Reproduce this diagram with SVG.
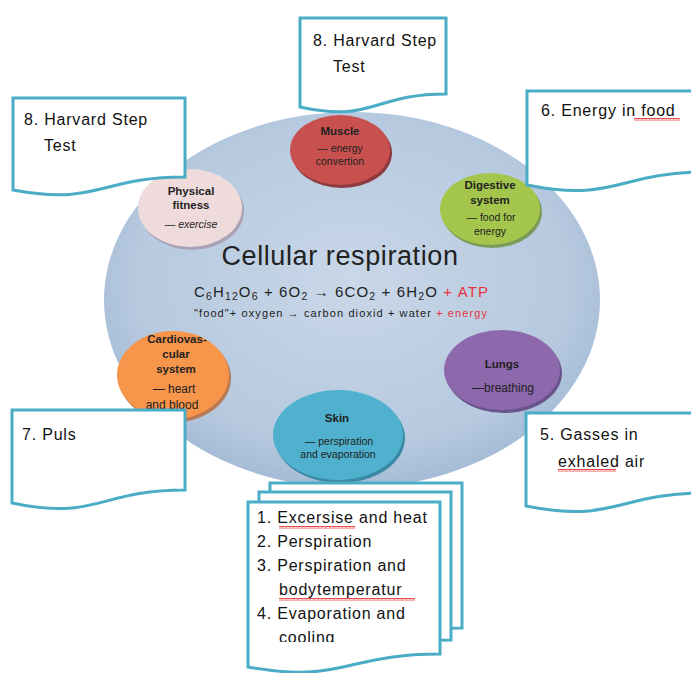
<svg xmlns="http://www.w3.org/2000/svg" width="691" height="673" viewBox="0 0 691 673">
<style>
.doc{fill:#fff;stroke:#4bacc6;stroke-width:3;stroke-linejoin:miter}
.dt{font-family:"Liberation Sans",Arial,sans-serif;font-size:16px;letter-spacing:0.8px;fill:#111}
.ct{font-family:"Liberation Sans",Arial,sans-serif;text-anchor:middle;fill:#222}
.eq{font-family:"Liberation Sans",Arial,sans-serif;fill:#222}
.cb{font-size:11.5px;font-weight:bold}
.cs{font-size:10.5px}
.red{fill:#e8323c}
</style>
<defs>
<radialGradient id="bg" cx="50%" cy="45%" r="55%">
<stop offset="0" stop-color="#c9d7e8"/>
<stop offset="0.8" stop-color="#b6c9df"/>
<stop offset="1" stop-color="#a5bbd6"/>
</radialGradient>
<pattern id="wavy" width="4" height="3" patternUnits="userSpaceOnUse">
<path d="M0,2.5 L1,0.5 L2,2.5 L3,0.5 L4,2.5" fill="none" stroke="#e02020" stroke-width="0.8"/>
</pattern>
<clipPath id="stackclip"><rect x="240" y="480" width="240" height="162"/></clipPath>
</defs>

<g id="hub">
<ellipse cx="352" cy="300" rx="248" ry="188" fill="url(#bg)"/>
<text class="ct" x="340" y="265" font-size="27" fill="#222" style="letter-spacing:0.6px">Cellular respiration</text>
<text class="eq" x="194" y="297" font-size="15" textLength="294" lengthAdjust="spacing"><tspan>C</tspan><tspan font-size="10.5" dy="3">6</tspan><tspan dy="-3">H</tspan><tspan font-size="10.5" dy="3">12</tspan><tspan dy="-3">O</tspan><tspan font-size="10.5" dy="3">6</tspan><tspan dy="-3"> + 6O</tspan><tspan font-size="10.5" dy="3">2</tspan><tspan dy="-3"> → 6CO</tspan><tspan font-size="10.5" dy="3">2</tspan><tspan dy="-3"> + 6H</tspan><tspan font-size="10.5" dy="3">2</tspan><tspan dy="-3">O </tspan><tspan class="red">+ ATP</tspan></text>
<text class="eq" x="194" y="317" font-size="11" textLength="293" lengthAdjust="spacing">"food"+ oxygen → carbon dioxid + water <tspan class="red">+ energy</tspan></text>
</g>

<g id="muscle">
<ellipse cx="342" cy="153" rx="50" ry="35" fill="#8e3a3f"/>
<ellipse cx="340" cy="150" rx="50" ry="35" fill="#c8514f"/>
<text class="ct cb" x="340" y="135">Muscle</text>
<text class="ct cs" x="340" y="152">— energy</text>
<text class="ct cs" x="340" y="165">convertion</text>
</g>

<g id="physical">
<ellipse cx="192" cy="211" rx="52" ry="39" fill="#a9a3b6"/>
<ellipse cx="190" cy="208" rx="52" ry="39" fill="#f0dbdc"/>
<text class="ct cb" x="191" y="195">Physical</text>
<text class="ct cb" x="191" y="209">fitness</text>
<text class="ct cs" x="191" y="228" font-style="italic">— exercise</text>
</g>

<g id="digestive">
<ellipse cx="492" cy="212" rx="50" ry="36" fill="#7a9a58"/>
<ellipse cx="490" cy="209" rx="50" ry="36" fill="#a4c64c"/>
<text class="ct cb" x="490" y="189">Digestive</text>
<text class="ct cb" x="490" y="204">system</text>
<text class="ct cs" x="491" y="221">— food for</text>
<text class="ct cs" x="490" y="235">energy</text>
</g>

<g id="cardio">
<ellipse cx="175" cy="378" rx="56" ry="44" fill="#b77a53"/>
<ellipse cx="173" cy="375" rx="56" ry="44" fill="#f7954a"/>
<text class="ct cb" x="177" y="343">Cardiovas-</text>
<text class="ct cb" x="176" y="358">cular</text>
<text class="ct cb" x="176" y="373">system</text>
<text class="ct" x="174" y="393" font-size="12">—  heart</text>
<text class="ct" x="172" y="409" font-size="12">and blood</text>
</g>

<g id="lungs">
<ellipse cx="504" cy="373" rx="58" ry="40" fill="#6a548c"/>
<ellipse cx="502" cy="370" rx="58" ry="40" fill="#8d68ad"/>
<text class="ct cb" x="502" y="368">Lungs</text>
<text class="ct" x="503" y="392" font-size="12">—breathing</text>
</g>

<g id="skin">
<ellipse cx="340" cy="438" rx="65" ry="45" fill="#3a8aa6"/>
<ellipse cx="338" cy="435" rx="65" ry="45" fill="#4fb1cd"/>
<text class="ct cb" x="337" y="422">Skin</text>
<text class="ct cs" x="339" y="445">— perspiration</text>
<text class="ct cs" x="338" y="458">and evaporation</text>
</g>

<g id="doc-top">
<path class="doc" d="M300,18 H446 V94 C373,94 373,123 300,107 Z"/>
<text class="dt" x="313" y="46">8. Harvard Step</text>
<text class="dt" x="333" y="72">Test</text>
</g>

<g id="doc-topleft">
<path class="doc" d="M13,98 H185 V177 C99,177 99,206 13,190 Z"/>
<text class="dt" x="24" y="125">8. Harvard Step</text>
<text class="dt" x="44" y="151">Test</text>
</g>

<g id="doc-topright">
<path class="doc" d="M527,91 H707 V172 C617,172 617,203 527,185 Z"/>
<text class="dt" x="541" y="116">6. Energy in food</text>
<rect x="634" y="118" width="46" height="3" fill="url(#wavy)"/>
</g>

<g id="doc-puls">
<path class="doc" d="M12,410 H185 V490 C98,490 98,521 12,503 Z"/>
<text class="dt" x="22" y="440">7. Puls</text>
</g>

<g id="doc-gasses">
<path class="doc" d="M526,413 H706 V493 C616,493 616,524 526,506 Z"/>
<text class="dt" x="540" y="440">5. Gasses in</text>
<text class="dt" x="558" y="467">exhaled air</text>
<rect x="558" y="469" width="58" height="3" fill="url(#wavy)"/>
</g>

<g id="doc-stack">
<path class="doc" d="M270,483 H462 V628 C366,628 366,660 270,645 Z"/>
<path class="doc" d="M259,492 H451 V640 C355,640 355,672 259,657 Z"/>
<path class="doc" d="M248,502 H440 V654 C344,654 344,684 248,667 Z"/>
<g clip-path="url(#stackclip)">
<text class="dt" x="257" y="523">1. Excersise and heat</text>
<text class="dt" x="257" y="547">2. Perspiration</text>
<text class="dt" x="257" y="571">3. Perspiration and</text>
<text class="dt" x="279" y="595">bodytemperatur</text>
<text class="dt" x="257" y="619">4. Evaporation and</text>
<text class="dt" x="279" y="643">cooling</text>
</g>
<rect x="279" y="526" width="76" height="3" fill="url(#wavy)"/>
<rect x="279" y="598" width="136" height="3" fill="url(#wavy)"/>
</g>
</svg>
